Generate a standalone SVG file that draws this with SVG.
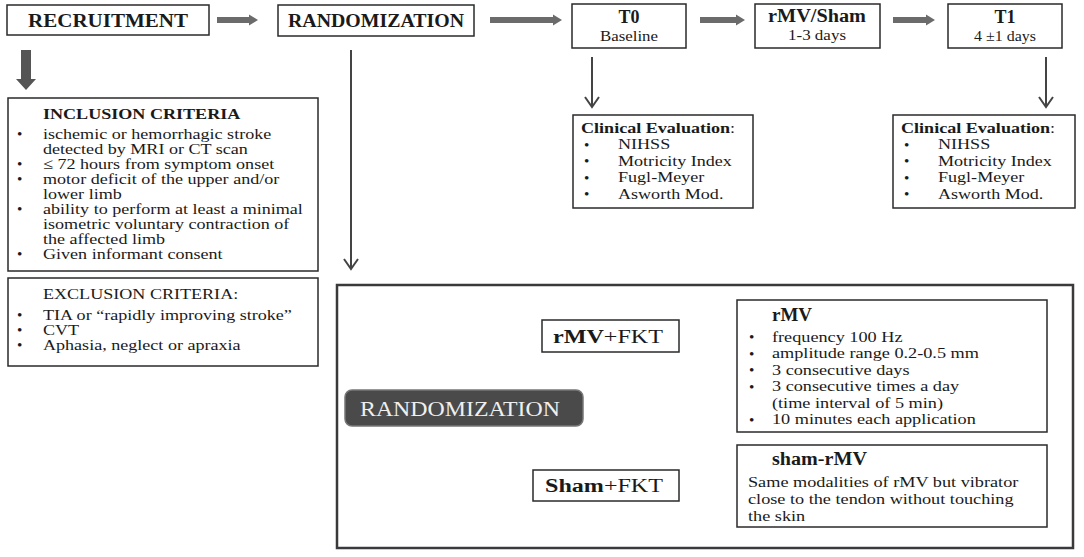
<svg xmlns="http://www.w3.org/2000/svg" width="1084" height="557" viewBox="0 0 1084 557" font-family="'Liberation Serif','Times New Roman',serif">
<style>
text{font-family:"Liberation Serif","Times New Roman",serif;fill:#1a1a1a}
.box{fill:#fff;stroke:#2a2a2a;stroke-width:1.5}
.big{fill:#fff;stroke:#3a3a3a;stroke-width:2.5}
.top{font-size:18px;font-weight:bold}
.tl{font-size:18px;font-weight:bold}
.sub{font-size:15px}
.t{font-size:15.2px}
.b{font-weight:bold}
.thick{fill:#6b6b6b}
.thin{stroke:#444;stroke-width:2;fill:none}
.fine{stroke:#333;stroke-width:1.2;fill:none}
</style>
<defs>
<marker id="tri" viewBox="0 0 10 10" refX="9" refY="5" markerWidth="8" markerHeight="8" markerUnits="userSpaceOnUse" orient="auto">
<path d="M0,0 L10,5 L0,10 z" fill="#333"/>
</marker>
</defs>

<g id="connectors">
<polygon class="thick" points="217,17 249,17 249,14.5 258,20 249,25.5 249,23 217,23"/>
<polygon class="thick" points="490,17 553,17 553,14.5 562,20 553,25.5 553,23 490,23"/>
<polygon class="thick" points="700,17 736,17 736,14.5 745,20 736,25.5 736,23 700,23"/>
<polygon class="thick" points="893,17 926,17 926,14.5 935,20 926,25.5 926,23 893,23"/>
<polygon fill="#555" points="21,50 31,50 31,79 36,79 26,90 16,79 21,79"/>
<path class="thin" d="M592,57 V107 M585,97 L592,107 L599,97"/>
<path class="thin" d="M1046,57 V107 M1039,97 L1046,107 L1053,97"/>
<path class="thin" d="M351,50 V269 M344,259 L351,269 L358,259"/>
<line class="fine" x1="558" y1="388" x2="612" y2="360" marker-end="url(#tri)"/>
<line class="fine" x1="558" y1="438" x2="612" y2="470" marker-end="url(#tri)"/>
<line class="fine" x1="692" y1="317" x2="737" y2="317" marker-end="url(#tri)"/>
<line class="fine" x1="692" y1="467" x2="737" y2="467" marker-end="url(#tri)"/>
</g>

<g id="recruitment">
<rect class="box" x="7" y="5" width="202" height="30"/>
<text class="top" x="108" y="27" text-anchor="middle" textLength="160" lengthAdjust="spacingAndGlyphs">RECRUITMENT</text>
</g>

<g id="randomization">
<rect class="box" x="278" y="5" width="196" height="31"/>
<text class="top" x="376" y="27" text-anchor="middle" textLength="176" lengthAdjust="spacingAndGlyphs">RANDOMIZATION</text>
</g>

<g id="t0">
<rect class="box" x="572" y="4" width="114" height="44"/>
<text class="tl" x="629" y="23" text-anchor="middle" font-size="19">T0</text>
<text class="sub" x="629" y="41" text-anchor="middle" textLength="58" lengthAdjust="spacingAndGlyphs">Baseline</text>
</g>

<g id="rmv-sham">
<rect class="box" x="755" y="4" width="125" height="44"/>
<text class="tl" x="817" y="22" text-anchor="middle" textLength="98" lengthAdjust="spacingAndGlyphs">rMV/Sham</text>
<text class="sub" x="817" y="40" text-anchor="middle" textLength="58" lengthAdjust="spacingAndGlyphs">1-3 days</text>
</g>

<g id="t1">
<rect class="box" x="948" y="4" width="114" height="44"/>
<text class="tl" x="1005" y="23" text-anchor="middle" font-size="19">T1</text>
<text class="sub" x="1005" y="41" text-anchor="middle" textLength="62" lengthAdjust="spacingAndGlyphs">4 ±1 days</text>
</g>

<g id="clinical-t0">
<rect class="box" x="573" y="115" width="180" height="93"/>
<g transform="translate(581,0) scale(1.19,1) translate(-581,0)">
<text class="t" x="581" y="133"><tspan class="b">Clinical Evaluation</tspan>:</text>
</g>
<text class="t" x="584" y="149.5">•</text>
<text class="t" x="584" y="166">•</text>
<text class="t" x="584" y="182.5">•</text>
<text class="t" x="584" y="199">•</text>
<g transform="translate(618,0) scale(1.19,1) translate(-618,0)">
<text class="t" x="618" y="149.5">NIHSS</text>
<text class="t" x="618" y="166">Motricity Index</text>
<text class="t" x="618" y="182.5">Fugl-Meyer</text>
<text class="t" x="618" y="199">Asworth Mod.</text>
</g>
</g>

<g id="clinical-t1">
<rect class="box" x="893" y="115" width="182" height="93"/>
<g transform="translate(901,0) scale(1.19,1) translate(-901,0)">
<text class="t" x="901" y="133"><tspan class="b">Clinical Evaluation</tspan>:</text>
</g>
<text class="t" x="904" y="149.5">•</text>
<text class="t" x="904" y="166">•</text>
<text class="t" x="904" y="182.5">•</text>
<text class="t" x="904" y="199">•</text>
<g transform="translate(938,0) scale(1.19,1) translate(-938,0)">
<text class="t" x="938" y="149.5">NIHSS</text>
<text class="t" x="938" y="166">Motricity Index</text>
<text class="t" x="938" y="182.5">Fugl-Meyer</text>
<text class="t" x="938" y="199">Asworth Mod.</text>
</g>
</g>

<g id="inclusion">
<rect class="box" x="8" y="98" width="310" height="173"/>
<text class="t" x="17" y="139">•</text>
<text class="t" x="17" y="169">•</text>
<text class="t" x="17" y="184">•</text>
<text class="t" x="17" y="214">•</text>
<text class="t" x="17" y="259">•</text>
<g transform="translate(43,0) scale(1.19,1) translate(-43,0)">
<text class="t b" x="43" y="119">INCLUSION CRITERIA</text>
<text class="t" x="43" y="139">ischemic or hemorrhagic stroke</text>
<text class="t" x="43" y="154">detected by MRI or CT scan</text>
<text class="t" x="43" y="169">≤ 72 hours from symptom onset</text>
<text class="t" x="43" y="184">motor deficit of the upper and/or</text>
<text class="t" x="43" y="199">lower limb</text>
<text class="t" x="43" y="214">ability to perform at least a minimal</text>
<text class="t" x="43" y="229">isometric voluntary contraction of</text>
<text class="t" x="43" y="244">the affected limb</text>
<text class="t" x="43" y="259">Given informant consent</text>
</g>
</g>

<g id="exclusion">
<rect class="box" x="8" y="278" width="310" height="88"/>
<text class="t" x="17" y="320">•</text>
<text class="t" x="17" y="335">•</text>
<text class="t" x="17" y="350">•</text>
<g transform="translate(43,0) scale(1.19,1) translate(-43,0)">
<text class="t" x="43" y="299">EXCLUSION CRITERIA:</text>
<text class="t" x="43" y="320">TIA  or “rapidly improving stroke”</text>
<text class="t" x="43" y="335">CVT</text>
<text class="t" x="43" y="350">Aphasia, neglect or apraxia</text>
</g>
</g>

<g id="treatment-panel">
<rect class="big" x="337" y="285" width="736" height="263"/>
</g>

<g id="randomization-pill">
<rect x="345" y="390" width="238" height="36" rx="7" ry="7" fill="#4a4a4a" stroke="#777" stroke-width="1.5"/>
<text x="360" y="416" font-size="21" font-family="'Liberation Serif','Times New Roman',serif" textLength="200" lengthAdjust="spacingAndGlyphs" style="fill:#efefef">RANDOMIZATION</text>
</g>

<g id="rmv-fkt">
<rect class="box" x="542" y="320" width="137" height="32"/>
<text x="553" y="343" font-size="18" font-family="'Liberation Serif','Times New Roman',serif" textLength="110" lengthAdjust="spacingAndGlyphs"><tspan class="b">rMV</tspan>+FKT</text>
</g>

<g id="sham-fkt">
<rect class="box" x="533" y="470" width="146" height="31"/>
<text x="545" y="492" font-size="18" font-family="'Liberation Serif','Times New Roman',serif" textLength="118" lengthAdjust="spacingAndGlyphs"><tspan class="b">Sham</tspan>+FKT</text>
</g>

<g id="rmv">
<rect class="box" x="737" y="300" width="310" height="132"/>
<text class="tl" x="772" y="321" textLength="40" lengthAdjust="spacingAndGlyphs">rMV</text>
<text class="t" x="749" y="342">•</text>
<text class="t" x="749" y="358.5">•</text>
<text class="t" x="749" y="375">•</text>
<text class="t" x="749" y="391.5">•</text>
<text class="t" x="749" y="424.5">•</text>
<g transform="translate(772,0) scale(1.2,1) translate(-772,0)">
<text class="t" x="772" y="342">frequency 100 Hz</text>
<text class="t" x="772" y="358.5">amplitude range 0.2-0.5  mm</text>
<text class="t" x="772" y="375">3 consecutive days</text>
<text class="t" x="772" y="391.5">3 consecutive times a day</text>
<text class="t" x="772" y="408">(time interval of 5 min)</text>
<text class="t" x="772" y="424.5">10 minutes each application</text>
</g>
</g>

<g id="sham-rmv">
<rect class="box" x="737" y="445" width="310" height="82"/>
<text class="tl" x="772" y="465" textLength="95" lengthAdjust="spacingAndGlyphs">sham-rMV</text>
<g transform="translate(748,0) scale(1.2,1) translate(-748,0)">
<text class="t" x="748" y="487">Same modalities of rMV but vibrator</text>
<text class="t" x="748" y="504">close to the tendon without touching</text>
<text class="t" x="748" y="521">the skin</text>
</g>
</g>
</svg>
